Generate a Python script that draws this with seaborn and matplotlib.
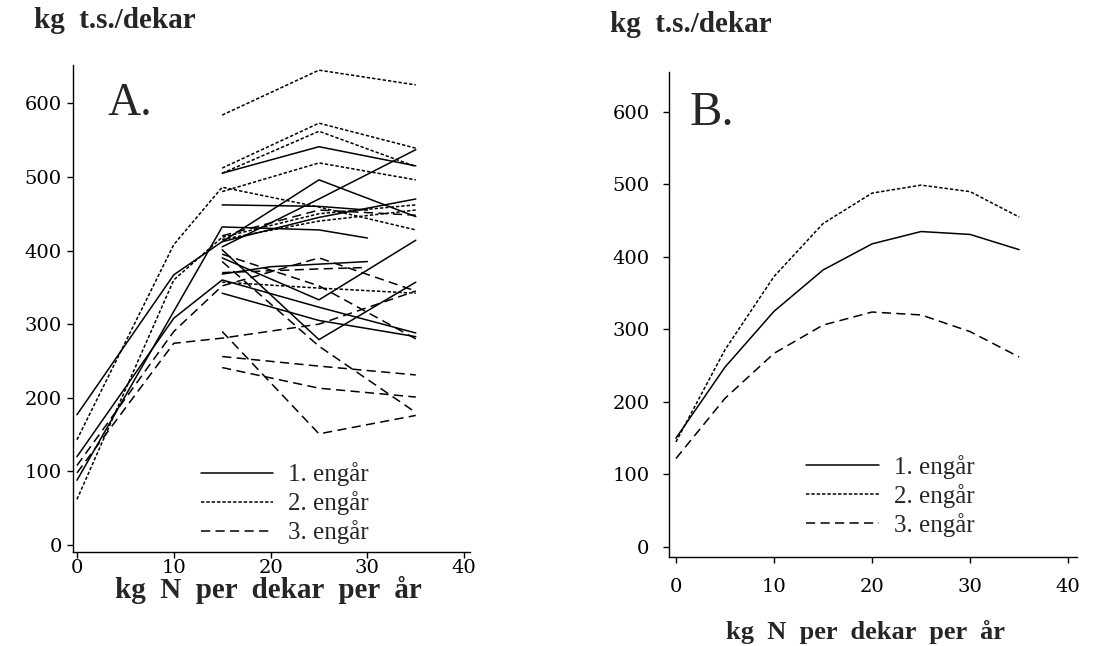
import numpy as np
import pandas as pd
import matplotlib
matplotlib.use("Agg")
import matplotlib.pyplot as plt
from matplotlib.lines import Line2D
import seaborn as sns

# ---------------- data ----------------
year_labels = ["1. engår", "2. engår", "3. engår"]

# Panel A: individual trials (x = kg N, y = kg t.s./dekar)
ar1_x = [[0, 10, 15, 25, 35], [0, 10, 15, 25, 35], [0, 15, 25, 30], [15, 25, 35],
         [15, 25, 30], [15, 25, 35], [15, 25, 35], [15, 25, 35], [15, 25, 35],
         [15, 20, 30], [15, 25, 35]]
ar1_y = [[177, 367, 412, 445, 470], [120, 308, 360, 323, 288], [88, 432, 428, 417], [505, 541, 515],
         [462, 460, 455], [412, 496, 446], [405, 470, 537], [390, 333, 414], [401, 279, 357],
         [368, 378, 385], [342, 305, 283]]

ar2_x = [[15, 25, 35], [15, 25, 35], [15, 25, 35], [15, 25, 35], [0, 10, 15, 25, 35],
         [0, 10, 15, 25, 35], [15, 25, 35], [15, 25, 35]]
ar2_y = [[584, 645, 625], [512, 573, 539], [505, 562, 514], [480, 519, 496], [143, 408, 486, 459, 428],
         [62, 360, 418, 450, 462], [357, 349, 342], [415, 440, 455]]

ar3_x = [[0, 10, 15, 25, 35], [0, 10, 15, 25, 35], [15, 25, 35], [15, 25, 35], [15, 25, 35],
         [15, 25, 35], [15, 25, 35], [15, 25, 30], [15, 25, 35]]
ar3_y = [[98, 274, 281, 300, 345], [108, 290, 352, 390, 345], [256, 243, 231], [241, 213, 201],
         [290, 151, 176], [385, 270, 180], [420, 455, 448], [370, 375, 377], [395, 352, 280]]

# Panel B: fitted mean curves
b_x = [0, 5, 10, 15, 20, 25, 30, 35]
b_ar1 = [150, 248, 325, 382, 418, 435, 431, 410]
b_ar2 = [145, 272, 373, 446, 488, 499, 490, 455]
b_ar3 = [122, 205, 267, 306, 324, 320, 297, 262]

x_ticks = [0, 10, 20, 30, 40]
y_ticks = [0, 100, 200, 300, 400, 500, 600]

# ---------------- build frames ----------------
rows = []
for lab, xs, ys in zip(year_labels, [ar1_x, ar2_x, ar3_x], [ar1_y, ar2_y, ar3_y]):
    for i, (xx, yy) in enumerate(zip(xs, ys)):
        for a, b in zip(xx, yy):
            rows.append({"N": a, "yield": b, "year": lab, "trial": f"{lab}-{i}"})
dfA = pd.DataFrame(rows)

dfB = pd.DataFrame({
    "N": b_x * 3,
    "yield": b_ar1 + b_ar2 + b_ar3,
    "year": sum([[lab] * len(b_x) for lab in year_labels], []),
})

# ---------------- style ----------------
sns.set_theme(style="ticks")
plt.rcParams["font.family"] = ["DejaVu Serif"]
plt.rcParams["axes.linewidth"] = 1.0

dash_map = {"1. engår": "", "2. engår": (2.2, 1.3), "3. engår": (6, 3.5)}

fig = plt.figure(figsize=(10.93, 6.46), dpi=100)
W, H = 1093, 646
axA = fig.add_axes([73 / W, 1 - 552 / H, (470 - 73) / W, (552 - 65) / H])
axB = fig.add_axes([669 / W, 1 - 557 / H, (1077 - 669) / W, (557 - 72) / H])

sns.lineplot(data=dfA, x="N", y="yield", style="year", units="trial", estimator=None,
             dashes=dash_map, color="black", linewidth=1.1, legend=False, ax=axA,
             sort=False)
sns.lineplot(data=dfB, x="N", y="yield", style="year", estimator=None,
             dashes=dash_map, color="black", linewidth=1.1, legend=False, ax=axB)

for ax, (xl, xr), (yb, yt), lc in [(axA, (-0.41, 40.6), (-9.5, 652), (0.534, 0.10)),
                                   (axB, (-0.71, 40.9), (-13.8, 655), (0.542, 0.126))]:
    ax.set_xlim(xl, xr)
    ax.set_ylim(yb, yt)
    ax.set_xticks(x_ticks)
    ax.set_yticks(y_ticks)
    ax.set_xlabel("")
    ax.set_ylabel("")
    sns.despine(ax=ax)
    ax.tick_params(direction="out", length=4, width=1, color="black",
                   labelsize=14, pad=3, labelcolor="black")
    for s in ax.spines.values():
        s.set_color("black")
    handles = [Line2D([], [], color="black", linewidth=1.1,
                      linestyle="-" if dash_map[l] == "" else (0, dash_map[l]))
               for l in year_labels]
    ax.legend(handles, year_labels, frameon=False, loc="center",
              bbox_to_anchor=lc,
              handlelength=2.9, handletextpad=0.6, labelspacing=0.2,
              prop={"family": "Liberation Serif", "size": 18})

axA.tick_params(axis="x", pad=1)
axA.tick_params(axis="y", pad=4)
axB.tick_params(axis="x", pad=11)
axB.tick_params(axis="y", pad=10)

axA.text(0.088, 0.92, "A.", transform=axA.transAxes, fontsize=33,
         family="Liberation Serif", va="center", ha="left")
axB.text(0.05, 0.915, "B.", transform=axB.transAxes, fontsize=35,
         family="Liberation Serif", va="center", ha="left")

fig.text(34 / W, 1 - 20 / H, "kg  t.s./dekar", fontsize=21, fontweight="bold",
         family="Liberation Serif", va="center", ha="left")
fig.text(610 / W, 1 - 24 / H, "kg  t.s./dekar", fontsize=21, fontweight="bold",
         family="Liberation Serif", va="center", ha="left")

fig.text(268 / W, 1 - 590 / H, "kg  N  per  dekar  per  år", fontsize=21,
         fontweight="bold", family="Liberation Serif", va="center", ha="center")
fig.text(865 / W, 1 - 632 / H, "kg  N  per  dekar  per  år", fontsize=19,
         fontweight="bold", family="Liberation Serif", va="center", ha="center")

fig.savefig("out.png", dpi=100, facecolor="white")
